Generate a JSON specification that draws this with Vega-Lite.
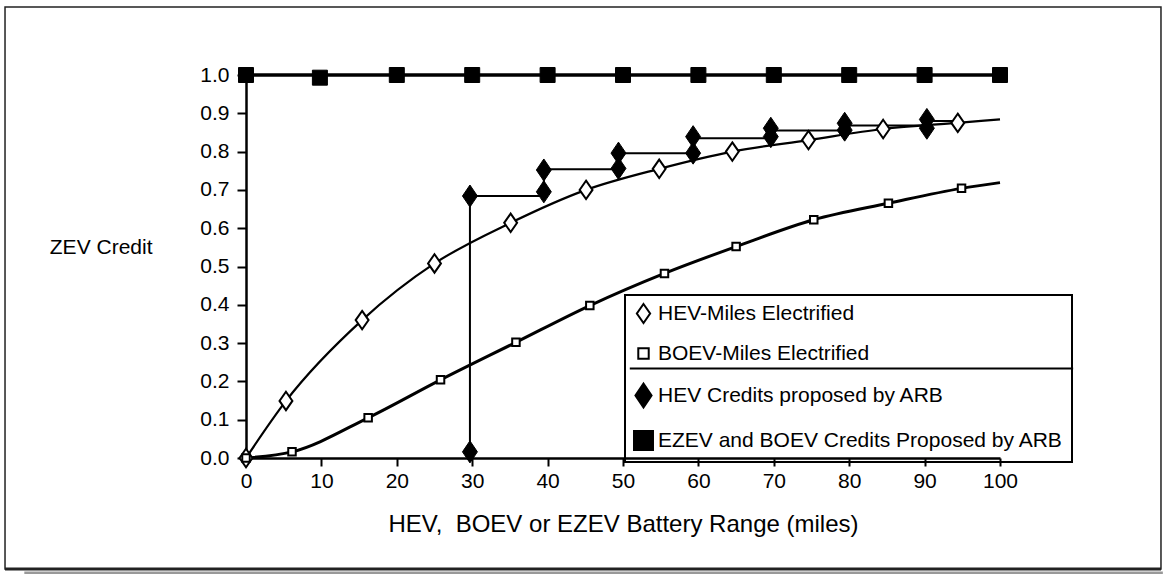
{
  "$schema": "https://vega.github.io/schema/vega-lite/v6.json",
  "width": 754,
  "height": 383,
  "autosize": {"type": "none"},
  "padding": {"left": 246, "top": 75, "right": 167, "bottom": 116},
  "background": "white",
  "config": {
    "view": {"stroke": null},
    "font": "Liberation Sans",
    "axis": {
      "grid": false,
      "domainColor": "black",
      "domainWidth": 2.5,
      "tickColor": "black",
      "tickWidth": 2,
      "labelColor": "black",
      "labelFont": "Liberation Sans",
      "labelFontSize": 21,
      "titleFont": "Liberation Sans",
      "titleColor": "black",
      "titleFontWeight": "normal",
      "labelFlush": false,
      "labelOverlap": false
    },
    "axisX": {
      "tickSize": 8,
      "labelPadding": 4,
      "titleFontSize": 24,
      "titleX": 377,
      "titleY": 73,
      "titleAlign": "center",
      "titleBaseline": "alphabetic"
    },
    "axisY": {
      "tickSize": 9,
      "labelPadding": 8,
      "titleFontSize": 21,
      "titleAngle": 0,
      "titleX": -94,
      "titleY": 178,
      "titleAlign": "right",
      "titleBaseline": "alphabetic"
    },
    "legend": {
      "orient": "none",
      "legendX": 379,
      "legendY": 220,
      "strokeColor": "black",
      "strokeWidth": 2,
      "padding": 8,
      "rowPadding": 15,
      "labelFont": "Liberation Sans",
      "labelFontSize": 21,
      "labelColor": "black",
      "labelOffset": 4,
      "symbolSize": 360,
      "symbolStrokeColor": "black",
      "symbolStrokeWidth": 2,
      "labelLimit": 600
    }
  },
  "datasets": {
    "markers": [
      {"series": "HEV-Miles Electrified", "x": 0, "y": 0},
      {"series": "HEV-Miles Electrified", "x": 5.3, "y": 0.149},
      {"series": "HEV-Miles Electrified", "x": 15.4, "y": 0.36},
      {"series": "HEV-Miles Electrified", "x": 25, "y": 0.508},
      {"series": "HEV-Miles Electrified", "x": 35.1, "y": 0.614},
      {"series": "HEV-Miles Electrified", "x": 45.1, "y": 0.7},
      {"series": "HEV-Miles Electrified", "x": 54.8, "y": 0.755},
      {"series": "HEV-Miles Electrified", "x": 64.5, "y": 0.8},
      {"series": "HEV-Miles Electrified", "x": 74.6, "y": 0.83},
      {"series": "HEV-Miles Electrified", "x": 84.5, "y": 0.859},
      {"series": "HEV-Miles Electrified", "x": 94.4, "y": 0.875},
      {"series": "BOEV-Miles Electrified", "x": 0, "y": 0},
      {"series": "BOEV-Miles Electrified", "x": 6.1, "y": 0.016},
      {"series": "BOEV-Miles Electrified", "x": 16.2, "y": 0.105},
      {"series": "BOEV-Miles Electrified", "x": 25.8, "y": 0.204},
      {"series": "BOEV-Miles Electrified", "x": 35.8, "y": 0.302},
      {"series": "BOEV-Miles Electrified", "x": 45.6, "y": 0.398},
      {"series": "BOEV-Miles Electrified", "x": 55.5, "y": 0.482},
      {"series": "BOEV-Miles Electrified", "x": 65, "y": 0.552},
      {"series": "BOEV-Miles Electrified", "x": 75.3, "y": 0.622},
      {"series": "BOEV-Miles Electrified", "x": 85.2, "y": 0.665},
      {"series": "BOEV-Miles Electrified", "x": 94.9, "y": 0.704},
      {"series": "HEV Credits proposed by ARB", "x": 29.7, "y": 0.016},
      {"series": "HEV Credits proposed by ARB", "x": 29.7, "y": 0.684},
      {"series": "HEV Credits proposed by ARB", "x": 39.5, "y": 0.695},
      {"series": "HEV Credits proposed by ARB", "x": 39.5, "y": 0.752},
      {"series": "HEV Credits proposed by ARB", "x": 49.4, "y": 0.756},
      {"series": "HEV Credits proposed by ARB", "x": 49.4, "y": 0.796},
      {"series": "HEV Credits proposed by ARB", "x": 59.3, "y": 0.796},
      {"series": "HEV Credits proposed by ARB", "x": 59.3, "y": 0.839},
      {"series": "HEV Credits proposed by ARB", "x": 69.6, "y": 0.839},
      {"series": "HEV Credits proposed by ARB", "x": 69.6, "y": 0.861},
      {"series": "HEV Credits proposed by ARB", "x": 79.4, "y": 0.856},
      {"series": "HEV Credits proposed by ARB", "x": 79.4, "y": 0.874},
      {"series": "HEV Credits proposed by ARB", "x": 90.3, "y": 0.861},
      {"series": "HEV Credits proposed by ARB", "x": 90.3, "y": 0.884},
      {"series": "EZEV and BOEV Credits Proposed by ARB", "x": 0, "y": 1},
      {"series": "EZEV and BOEV Credits Proposed by ARB", "x": 9.8, "y": 0.993},
      {"series": "EZEV and BOEV Credits Proposed by ARB", "x": 20, "y": 1},
      {"series": "EZEV and BOEV Credits Proposed by ARB", "x": 30, "y": 1},
      {"series": "EZEV and BOEV Credits Proposed by ARB", "x": 40, "y": 1},
      {"series": "EZEV and BOEV Credits Proposed by ARB", "x": 50, "y": 1},
      {"series": "EZEV and BOEV Credits Proposed by ARB", "x": 60, "y": 1},
      {"series": "EZEV and BOEV Credits Proposed by ARB", "x": 70, "y": 1},
      {"series": "EZEV and BOEV Credits Proposed by ARB", "x": 80, "y": 1},
      {"series": "EZEV and BOEV Credits Proposed by ARB", "x": 90, "y": 1},
      {"series": "EZEV and BOEV Credits Proposed by ARB", "x": 100, "y": 1}
    ],
    "curves": [
      {"series": "HEV", "x": 0, "y": 0},
      {"series": "HEV", "x": 5.3, "y": 0.149},
      {"series": "HEV", "x": 15.4, "y": 0.36},
      {"series": "HEV", "x": 25, "y": 0.508},
      {"series": "HEV", "x": 35.1, "y": 0.614},
      {"series": "HEV", "x": 45.1, "y": 0.7},
      {"series": "HEV", "x": 54.8, "y": 0.755},
      {"series": "HEV", "x": 64.5, "y": 0.8},
      {"series": "HEV", "x": 74.6, "y": 0.83},
      {"series": "HEV", "x": 84.5, "y": 0.859},
      {"series": "HEV", "x": 94.4, "y": 0.875},
      {"series": "HEV", "x": 100, "y": 0.884},
      {"series": "BOEV", "x": 0, "y": 0},
      {"series": "BOEV", "x": 6.1, "y": 0.016},
      {"series": "BOEV", "x": 16.2, "y": 0.105},
      {"series": "BOEV", "x": 25.8, "y": 0.204},
      {"series": "BOEV", "x": 35.8, "y": 0.302},
      {"series": "BOEV", "x": 45.6, "y": 0.398},
      {"series": "BOEV", "x": 55.5, "y": 0.482},
      {"series": "BOEV", "x": 65, "y": 0.552},
      {"series": "BOEV", "x": 75.3, "y": 0.622},
      {"series": "BOEV", "x": 85.2, "y": 0.665},
      {"series": "BOEV", "x": 94.9, "y": 0.704},
      {"series": "BOEV", "x": 100, "y": 0.719},
      {"series": "Step", "x": 29.7, "y": 0},
      {"series": "Step", "x": 29.7, "y": 0.684},
      {"series": "Step", "x": 39.5, "y": 0.684},
      {"series": "Step", "x": 39.5, "y": 0.754},
      {"series": "Step", "x": 49.4, "y": 0.754},
      {"series": "Step", "x": 49.4, "y": 0.796},
      {"series": "Step", "x": 59.3, "y": 0.796},
      {"series": "Step", "x": 59.3, "y": 0.835},
      {"series": "Step", "x": 69.6, "y": 0.835},
      {"series": "Step", "x": 69.6, "y": 0.855},
      {"series": "Step", "x": 79.4, "y": 0.855},
      {"series": "Step", "x": 79.4, "y": 0.868},
      {"series": "Step", "x": 90.3, "y": 0.868},
      {"series": "Step", "x": 90.3, "y": 0.88},
      {"series": "Step", "x": 95, "y": 0.88},
      {"series": "EZEV", "x": 0, "y": 1},
      {"series": "EZEV", "x": 100, "y": 1}
    ]
  },
  "layer": [
    {
      "data": {"name": "curves"},
      "transform": [{"filter": {"field": "series", "equal": "HEV"}}],
      "mark": {"type": "line", "interpolate": "monotone", "color": "black", "strokeWidth": 2.2},
      "encoding": {
        "x": {
          "field": "x", "type": "quantitative",
          "scale": {"domain": [0, 100], "nice": false},
          "axis": {"values": [0, 10, 20, 30, 40, 50, 60, 70, 80, 90, 100], "labelOverlap": false, "title": "HEV,\u00a0 BOEV or EZEV Battery Range (miles)"}
        },
        "y": {
          "field": "y", "type": "quantitative",
          "scale": {"domain": [0, 1], "nice": false},
          "axis": {"values": [0, 0.1, 0.2, 0.3, 0.4, 0.5, 0.6, 0.7, 0.8, 0.9, 1.0], "tickCount": 11, "labelOverlap": false, "format": ".1f", "title": "ZEV Credit"}
        }
      }
    },
    {
      "data": {"name": "curves"},
      "transform": [{"filter": {"field": "series", "equal": "BOEV"}}],
      "mark": {"type": "line", "interpolate": "monotone", "color": "black", "strokeWidth": 3},
      "encoding": {
        "x": {"field": "x", "type": "quantitative"},
        "y": {"field": "y", "type": "quantitative"}
      }
    },
    {
      "data": {"name": "curves"},
      "transform": [{"filter": {"field": "series", "equal": "Step"}}],
      "mark": {"type": "line", "interpolate": "linear", "color": "black", "strokeWidth": 2},
      "encoding": {
        "x": {"field": "x", "type": "quantitative"},
        "y": {"field": "y", "type": "quantitative"},
        "order": {"value": null}
      }
    },
    {
      "data": {"name": "curves"},
      "transform": [{"filter": {"field": "series", "equal": "EZEV"}}],
      "mark": {"type": "line", "color": "black", "strokeWidth": 3.5},
      "encoding": {
        "x": {"field": "x", "type": "quantitative"},
        "y": {"field": "y", "type": "quantitative"}
      }
    },
    {
      "data": {"values": [{}]},
      "mark": {"type": "rect", "fill": null, "stroke": "#222222", "strokeWidth": 1.5},
      "encoding": {
        "x": {"datum": -31.96, "type": "quantitative"},
        "x2": {"datum": 121.35},
        "y": {"datum": 1.1775, "type": "quantitative"},
        "y2": {"datum": -0.29}
      }
    },
    {
      "data": {"values": [{}]},
      "mark": {"type": "rule", "stroke": "#999999", "strokeWidth": 3},
      "encoding": {
        "x": {"datum": -29.4, "type": "quantitative"},
        "x2": {"datum": 121.6},
        "y": {"datum": -0.3, "type": "quantitative"}
      }
    },
    {
      "data": {"values": [{}]},
      "mark": {"type": "rule", "stroke": "#222222", "strokeWidth": 3},
      "encoding": {
        "x": {"datum": -31.96, "type": "quantitative"},
        "x2": {"datum": 121.35},
        "y": {"datum": -0.29, "type": "quantitative"}
      }
    },
    {
      "data": {"name": "markers"},
      "transform": [{"filter": {"field": "series", "equal": "HEV-Miles Electrified"}}],
      "mark": {"type": "point", "filled": true, "strokeWidth": 2, "opacity": 1, "size": 340},
      "encoding": {
        "x": {"field": "x", "type": "quantitative"},
        "y": {"field": "y", "type": "quantitative"},
        "shape": {
          "field": "series", "type": "nominal",
          "scale": {
            "domain": ["HEV-Miles Electrified", "BOEV-Miles Electrified", "HEV Credits proposed by ARB", "EZEV and BOEV Credits Proposed by ARB"],
            "range": ["M0,-1L0.7,0L0,1L-0.7,0Z", "M-0.55,-0.55L0.55,-0.55L0.55,0.55L-0.55,0.55Z", "M0,-1.25L0.85,0L0,1.25L-0.85,0Z", "square"]
          },
          "legend": {"title": null}
        },
        "fill": {
          "field": "series", "type": "nominal",
          "scale": {
            "domain": ["HEV-Miles Electrified", "BOEV-Miles Electrified", "HEV Credits proposed by ARB", "EZEV and BOEV Credits Proposed by ARB"],
            "range": ["white", "white", "black", "black"]
          },
          "legend": {"title": null}
        },
        "stroke": {
          "field": "series", "type": "nominal",
          "scale": {
            "domain": ["HEV-Miles Electrified", "BOEV-Miles Electrified", "HEV Credits proposed by ARB", "EZEV and BOEV Credits Proposed by ARB"],
            "range": ["black", "black", "black", "black"]
          },
          "legend": {"title": null}
        }
      }
    },
    {
      "data": {"name": "markers"},
      "transform": [{"filter": {"field": "series", "equal": "BOEV-Miles Electrified"}}],
      "mark": {"type": "point", "filled": true, "strokeWidth": 2, "opacity": 1, "size": 186},
      "encoding": {
        "x": {"field": "x", "type": "quantitative"},
        "y": {"field": "y", "type": "quantitative"},
        "shape": {"field": "series", "type": "nominal"},
        "fill": {"field": "series", "type": "nominal"},
        "stroke": {"field": "series", "type": "nominal"}
      }
    },
    {
      "data": {"name": "markers"},
      "transform": [{"filter": {"field": "series", "equal": "HEV Credits proposed by ARB"}}],
      "mark": {"type": "point", "filled": true, "strokeWidth": 1, "opacity": 1, "size": 310},
      "encoding": {
        "x": {"field": "x", "type": "quantitative"},
        "y": {"field": "y", "type": "quantitative"},
        "shape": {"field": "series", "type": "nominal"},
        "fill": {"field": "series", "type": "nominal"},
        "stroke": {"field": "series", "type": "nominal"}
      }
    },
    {
      "data": {"name": "markers"},
      "transform": [{"filter": {"field": "series", "equal": "EZEV and BOEV Credits Proposed by ARB"}}],
      "mark": {"type": "point", "filled": true, "strokeWidth": 1, "opacity": 1, "size": 225},
      "encoding": {
        "x": {"field": "x", "type": "quantitative"},
        "y": {"field": "y", "type": "quantitative"},
        "shape": {"field": "series", "type": "nominal"},
        "fill": {"field": "series", "type": "nominal"},
        "stroke": {"field": "series", "type": "nominal"}
      }
    },
    {
      "data": {"values": [{}]},
      "mark": {"type": "rule", "stroke": "black", "strokeWidth": 2},
      "encoding": {
        "x": {"datum": 50.9, "type": "quantitative"},
        "x2": {"datum": 109.7},
        "y": {"datum": 0.234, "type": "quantitative"}
      }
    }
  ]
}
